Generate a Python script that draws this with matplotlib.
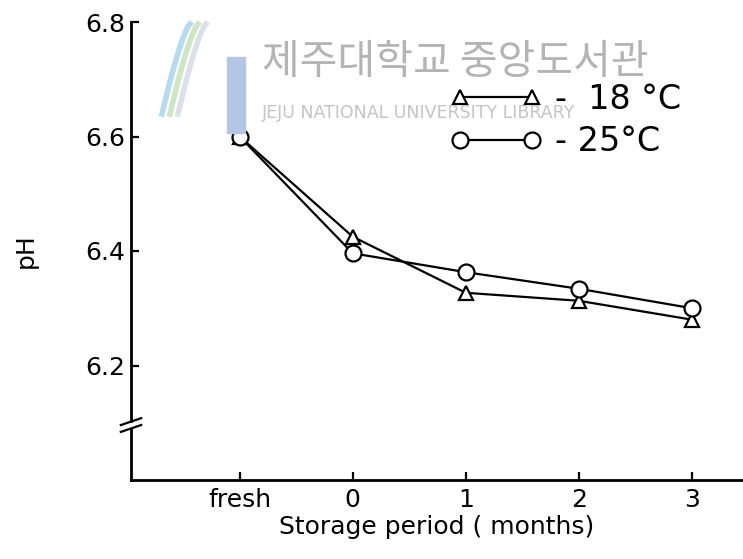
import numpy as np
import matplotlib
matplotlib.use("Agg")
import matplotlib.pyplot as plt
from matplotlib.lines import Line2D

# data
categories = ["fresh", "0", "1", "2", "3"]
x_pos = [-1, 0, 1, 2, 3]
ph_m18 = [6.60, 6.425, 6.327, 6.313, 6.28]
ph_m25 = [6.60, 6.396, 6.363, 6.334, 6.30]
y_ticks = [6.2, 6.4, 6.6, 6.8]
labels = ["-  18 °C", "- 25°C"]

W, H = 743, 559
fig = plt.figure(figsize=(W / 100, H / 100), dpi=100)
fig.patch.set_facecolor("white")

# axes placed in pixel terms (left spine x~131, x-axis y~480, top 6.8 at y~22)
ax = fig.add_axes([131 / W, (H - 480) / H, (W - 131) / W, (480 - 22) / H])
ax.set_facecolor("none")
ax.set_xlim(-1.96, 3.45)
ax.set_ylim(6.0, 6.8)

# watermark (library stamp on the scan)
fig.text(262 / W, 1 - 62 / H, "제주대학교 중앙도서관", fontsize=29.5, color="#b4b4b4",
         family=["Noto Sans CJK KR", "DejaVu Sans"], ha="left", va="center", zorder=0)
fig.text(262 / W, 1 - 113 / H, "JEJU NATIONAL UNIVERSITY LIBRARY", fontsize=12.5,
         color="#c4c4c4", ha="left", va="center", zorder=0)
fig.patches.append(plt.Rectangle((227 / W, 1 - 133 / H), 18 / W, 76 / H,
                                 transform=fig.transFigure, color="#b3c6e3", zorder=0))
t = np.linspace(0, 1, 50)
for dx, col in [(0, "#a6d6ee"), (8, "#c6e2b8"), (16, "#d6dce6")]:
    xs = (190 + dx - 28 * t ** 0.75) / W
    ys = 1 - (24 + 90 * t) / H
    fig.add_artist(Line2D(xs, ys, color=col, lw=4, alpha=0.85, zorder=0,
                          transform=fig.transFigure))

lkw = dict(color="black", lw=1.6, mfc="white", mec="black", mew=1.6, zorder=3)
ax.plot(x_pos, ph_m18, marker="^", ms=10, label=labels[0], **lkw)
ax.plot(x_pos, ph_m25, marker="o", ms=11.5, label=labels[1], **lkw)

ax.spines["top"].set_visible(False)
ax.spines["right"].set_visible(False)
for s in ["left", "bottom"]:
    ax.spines[s].set_linewidth(2)

ax.set_yticks(y_ticks)
ax.set_yticklabels([f"{v:.1f}" for v in y_ticks])
ax.set_xticks(x_pos)
ax.set_xticklabels(categories)
ax.tick_params(axis="both", direction="in", length=6, width=1.6, labelsize=18, pad=4)
ax.tick_params(axis="x", pad=6)

ax.set_ylabel("pH", fontsize=18, labelpad=34)
ax.set_xlabel("Storage period ( months)", fontsize=18, labelpad=2)

# axis break marks on the y axis
yb = 6.096
for off in (-0.006, 0.006):
    ax.plot([-2.05, -1.87], [yb + off - 0.006, yb + off + 0.006], color="black",
            lw=1.6, clip_on=False, zorder=4)
ax.fill_between([-1.975, -1.945], yb - 0.003, yb + 0.003, color="white",
                clip_on=False, zorder=3.5)

ax.legend(loc="upper left", bbox_to_anchor=(420 / W, 1 - 53 / H),
          bbox_transform=fig.transFigure, frameon=False, fontsize=24,
          handlelength=2.75, numpoints=2, handletextpad=0.4, labelspacing=0.28)

fig.savefig("out.png", dpi=100, facecolor="white")
